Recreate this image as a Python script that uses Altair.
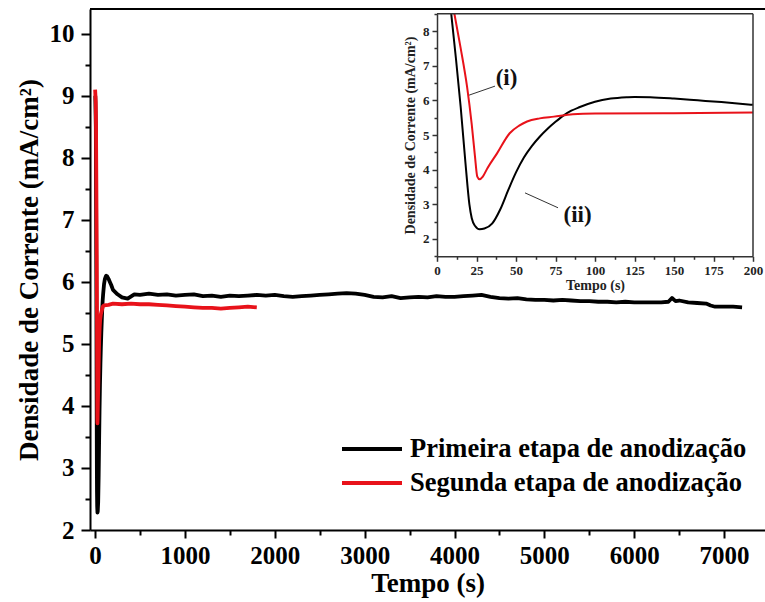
import altair as alt
import pandas as pd

FONT = "Liberation Serif"
NAMES = ["Primeira etapa de anodização", "Segunda etapa de anodização"]
COLORS = ["#000000", "#e8121a"]

# Primeira etapa (black)
t1 = [3, 9, 12, 15, 18, 20.5, 22, 24, 27, 30, 35, 40, 45, 50, 55, 60, 65, 70, 75, 80, 85, 90,
      100, 110, 120, 125, 135, 150, 165, 180, 200, 250, 300, 363, 437, 500, 600, 700, 800, 900,
      1000, 1100, 1200, 1300, 1400, 1500, 1600, 1700, 1800, 1900, 2000, 2100, 2200, 2300, 2400,
      2500, 2600, 2700, 2800, 2900, 3000, 3100, 3200, 3300, 3400, 3500, 3600, 3700, 3800, 3900,
      4000, 4100, 4200, 4300, 4400, 4500, 4600, 4700, 4800, 4900, 5000, 5100, 5200, 5300, 5400,
      5500, 5600, 5700, 5800, 5900, 6000, 6100, 6200, 6300, 6380, 6420, 6460, 6500, 6600, 6700,
      6800, 6850, 6900, 7000, 7100, 7200]
v1 = [9.0, 8.5, 7.2, 5.8, 4.2, 3.0, 2.6, 2.38, 2.28, 2.3, 2.45, 2.85, 3.4, 3.92, 4.35, 4.68,
      4.95, 5.18, 5.38, 5.56, 5.7, 5.8, 5.96, 6.05, 6.09, 6.1, 6.09, 6.05, 6.0, 5.95, 5.87, 5.8,
      5.75, 5.73, 5.8, 5.79, 5.81, 5.79, 5.8, 5.78, 5.79, 5.8, 5.77, 5.78, 5.76, 5.78, 5.77, 5.78,
      5.79, 5.78, 5.79, 5.77, 5.76, 5.77, 5.78, 5.79, 5.8, 5.81, 5.82, 5.81, 5.79, 5.76, 5.75,
      5.77, 5.74, 5.75, 5.76, 5.75, 5.77, 5.76, 5.76, 5.77, 5.78, 5.79, 5.76, 5.74, 5.73, 5.74,
      5.72, 5.71, 5.71, 5.7, 5.71, 5.7, 5.69, 5.69, 5.68, 5.68, 5.67, 5.68, 5.67, 5.67, 5.67,
      5.67, 5.68, 5.74, 5.69, 5.7, 5.67, 5.66, 5.65, 5.62, 5.6, 5.6, 5.6, 5.59]

# Segunda etapa (red)
t2 = [1, 8, 11, 15, 19, 22, 24, 25.5, 27, 29, 32, 38, 46, 52, 57, 65, 74, 86, 100, 150, 200,
      300, 400, 500, 600, 700, 800, 900, 1000, 1100, 1200, 1300, 1400, 1500, 1600, 1700, 1800]
v2 = [9.1, 8.9, 8.5, 7.5, 6.4, 5.3, 4.4, 3.8, 3.72, 3.8, 4.05, 4.47, 5.05, 5.27, 5.39, 5.48,
      5.53, 5.6, 5.62, 5.63, 5.65, 5.64, 5.65, 5.64, 5.64, 5.63, 5.62, 5.61, 5.6, 5.59, 5.58,
      5.58, 5.57, 5.58, 5.59, 5.6, 5.59]

# inset annotations
ann_label = ["(i)", "(ii)"]
ann_t = [44, 89]
ann_v = [6.64, 2.69]
lead_t = [20.3, 55.7]
lead_v = [6.15, 3.33]
lead_t2 = [36.7, 76.6]
lead_v2 = [6.41, 2.9]

df = pd.concat([
    pd.DataFrame({"t": t1, "v": v1, "serie": NAMES[0]}),
    pd.DataFrame({"t": t2, "v": v2, "serie": NAMES[1]}),
], ignore_index=True)

# ---------------- main plot ----------------
W, H = 675, 521
XMIN, XMAX = -56, 7455
YMIN, YMAX = 2, 10.4

main_xs = alt.Scale(domain=[XMIN, XMAX], nice=False, zero=False)
main_ys = alt.Scale(domain=[YMIN, YMAX], nice=False, zero=False)
main_xax = alt.Axis(
    title="Tempo (s)", values=list(range(0, 7001, 500)),
    labelExpr="datum.value % 1000 === 0 ? '' + datum.value : ''",
    tickSize={"condition": {"test": "datum.value % 1000 === 0", "value": 8}, "value": 5},
    labelFont=FONT, labelFontSize=25, labelFontWeight="bold", labelPadding=5,
    titleFont=FONT, titleFontSize=27, titleFontWeight="bold", titlePadding=2,
    grid=False, domainColor="black", domainWidth=2, tickColor="black", tickWidth=2,
    labelColor="black", titleColor="black", labelOverlap=False, labelFlush=False,
)
main_yax = alt.Axis(
    title="Densidade de Corrente (mA/cm²)", values=[2 + 0.5 * i for i in range(17)],
    labelExpr="datum.value % 1 === 0 ? '' + datum.value : ''",
    tickSize={"condition": {"test": "datum.value % 1 === 0", "value": 9}, "value": 5},
    labelFont=FONT, labelFontSize=25, labelFontWeight="bold", labelPadding=7,
    titleFont=FONT, titleFontSize=27, titleFontWeight="bold", titlePadding=6,
    grid=False, domainColor="black", domainWidth=2, tickColor="black", tickWidth=2,
    labelColor="black", titleColor="black", labelOverlap=False, labelFlush=False,
)
color = alt.Color(
    "serie:N", scale=alt.Scale(domain=NAMES, range=COLORS),
    legend=alt.Legend(
        title=None, orient="none", legendX=250, legendY=425, symbolType="stroke",
        symbolSize=3600, symbolStrokeWidth=4, clipHeight=30, rowPadding=4, padding=0,
        labelFont=FONT, labelFontSize=26.5, labelFontWeight="bold", labelColor="black",
        labelOffset=6, labelLimit=500,
    ),
)

main_lines = alt.Chart(df).mark_line(strokeWidth=3.8, strokeJoin="round").encode(
    x=alt.X("t:Q", scale=main_xs, axis=main_xax),
    y=alt.Y("v:Q", scale=main_ys, axis=main_yax),
    color=color,
    detail="serie:N",
)

top_df = pd.DataFrame({"t": [XMIN], "t2": [XMAX], "v": [YMAX]})
main_top = alt.Chart(top_df).mark_rule(color="black", strokeWidth=2).encode(
    x=alt.X("t:Q", scale=main_xs, axis=main_xax),
    x2="t2:Q",
    y=alt.Y("v:Q", scale=main_ys, axis=main_yax),
)

main = alt.layer(main_lines, main_top)

# ---------------- inset ----------------
IX0, IX1 = 347, 663
IYB, IYT = 247.3, 4.7
in_xs = alt.Scale(domain=[0, 200], range=[IX0, IX1], nice=False, zero=False)
in_ys = alt.Scale(domain=[1.5, 8.5], range=[IYB, IYT], nice=False, zero=False)
in_xax = alt.Axis(
    title="Tempo (s)", orient="bottom", offset=-(H - IYB),
    values=[12.5 * i for i in range(17)],
    labelExpr="datum.value % 25 === 0 ? '' + datum.value : ''",
    tickSize={"condition": {"test": "datum.value % 25 === 0", "value": 5}, "value": 3},
    labelFont=FONT, labelFontSize=13, labelFontWeight="bold", labelPadding=3,
    titleFont=FONT, titleFontSize=14, titleFontWeight="bold", titlePadding=1,
    grid=False, domainColor="#333333", domainWidth=1.5, tickColor="#333333", tickWidth=1.5,
    labelColor="#222222", titleColor="#222222", labelOverlap=False, labelFlush=False,
)
in_yax = alt.Axis(
    title="Densidade de Corrente (mA/cm²)", orient="left", offset=-IX0,
    values=[1.5 + 0.5 * i for i in range(15)],
    labelExpr="datum.value % 1 === 0 ? '' + datum.value : ''",
    tickSize={"condition": {"test": "datum.value % 1 === 0", "value": 5}, "value": 3},
    labelFont=FONT, labelFontSize=13, labelFontWeight="bold", labelPadding=3,
    titleFont=FONT, titleFontSize=14, titleFontWeight="bold", titlePadding=5,
    grid=False, domainColor="#333333", domainWidth=1.5, tickColor="#333333", tickWidth=1.5,
    labelColor="#222222", titleColor="#222222", labelOverlap=False, labelFlush=False,
)
ix = alt.X("t:Q", scale=in_xs, axis=in_xax)
iy = alt.Y("v:Q", scale=in_ys, axis=in_yax)

in_lines = alt.Chart(df).mark_line(strokeWidth=2, interpolate="monotone").encode(
    x=ix, y=iy,
    color=alt.Color("serie:N", scale=alt.Scale(domain=NAMES, range=COLORS), legend=None),
    detail="serie:N",
).transform_filter("datum.t <= 200 && datum.v <= 8.5")

frame_df = pd.DataFrame({"t": [200, 0], "t2": [200, 200], "v": [1.5, 8.5], "v2": [8.5, 8.5]})
in_frame = alt.Chart(frame_df).mark_rule(color="#333333", strokeWidth=1.5).encode(
    x=ix, x2="t2:Q", y=iy, y2="v2:Q"
)

lead_df = pd.DataFrame({"t": lead_t, "v": lead_v, "t2": lead_t2, "v2": lead_v2})
in_lead = alt.Chart(lead_df).mark_rule(color="#333333", strokeWidth=1).encode(
    x=ix, x2="t2:Q", y=iy, y2="v2:Q"
)

ann_df = pd.DataFrame({"t": ann_t, "v": ann_v, "label": ann_label})
in_text = alt.Chart(ann_df).mark_text(
    font=FONT, fontSize=23, fontWeight="bold", color="#111111", baseline="middle", align="center"
).encode(x=ix, y=iy, text="label:N")

inset = alt.layer(in_lines, in_frame, in_lead, in_text)

chart = alt.layer(main, inset).resolve_scale(x="independent", y="independent").properties(
    width=W, height=H,
    autosize=alt.AutoSizeParams(type="none"),
    padding={"left": 90, "top": 9, "right": 0, "bottom": 72},
    background="white",
).configure_view(stroke=None)

chart.save("out.html", embed_options={"renderer": "svg", "actions": False})
